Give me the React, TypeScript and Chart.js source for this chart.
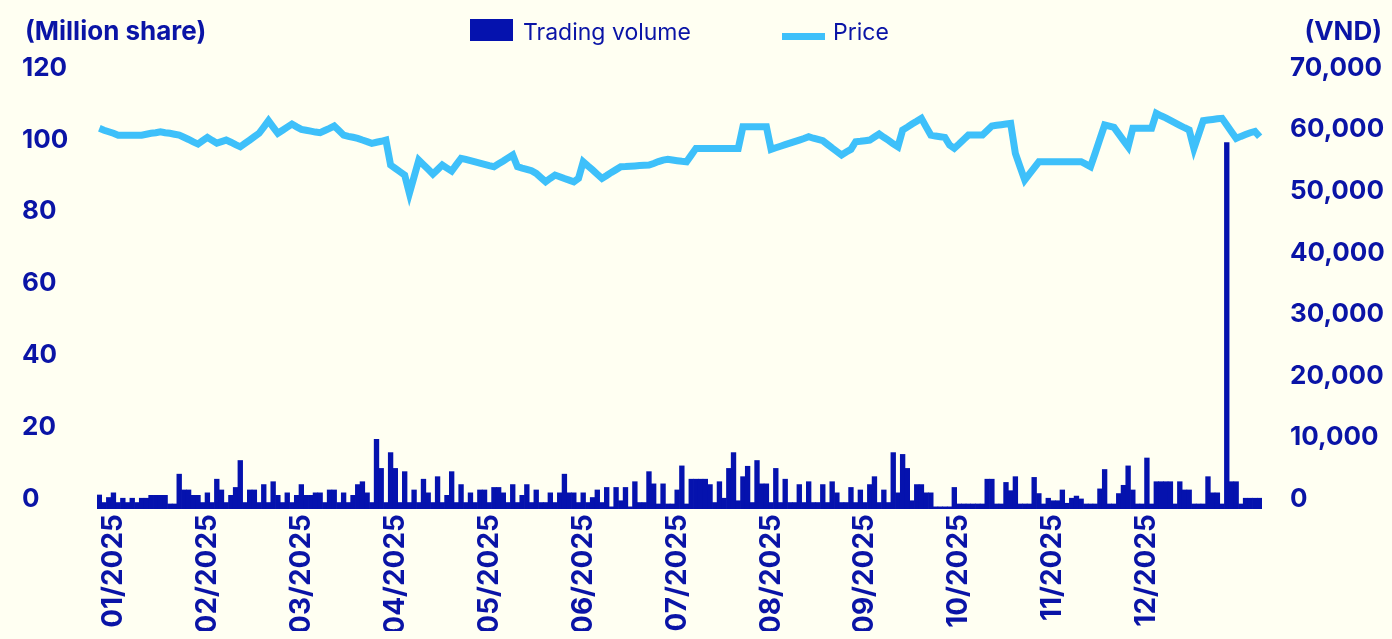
import React, { useEffect, useRef } from 'react';
import { Chart, registerables } from 'chart.js';

Chart.register(...registerables);

const BG = '#fffff2';
const TEXT = '#0a14a6';
const BAR = '#0512ae';
const LINE = '#3ec0fa';

// Trading volume (million shares), one value per trading day
const volume = [
  3.9, 1.8, 3.2, 4.5, 1.8, 3.0, 1.8, 3.0, 1.8, 3.0,
  3.0, 3.8, 3.8, 3.8, 3.8, 1.4, 1.4, 9.7, 5.3, 5.3,
  3.8, 3.8, 1.8, 4.5, 1.8, 8.3, 5.3, 1.8, 3.8, 6.0,
  13.5, 1.8, 5.3, 5.3, 1.8, 6.8, 1.8, 7.6, 3.8, 1.8,
  4.5, 1.8, 3.8, 6.8, 3.8, 3.8, 4.5, 4.5, 1.8, 5.3,
  5.3, 1.8, 4.5, 1.8, 3.8, 6.8, 7.6, 4.5, 1.8, 19.4,
  11.3, 1.8, 15.7, 11.3, 1.8, 10.4, 1.8, 5.3, 1.8, 8.3,
  4.5, 1.8, 9.0, 1.8, 3.8, 10.4, 1.8, 6.8, 1.8, 4.5,
  1.8, 5.3, 5.3, 1.8, 6.0, 6.0, 4.5, 1.8, 6.8, 1.8,
  3.8, 6.8, 1.8, 5.3, 1.8, 1.8, 4.5, 1.8, 4.5, 9.7,
  4.5, 4.5, 1.8, 4.5, 1.8, 3.2, 5.3, 1.8, 6.0, 0.6,
  6.0, 2.3, 6.0, 0.6, 7.6, 1.8, 1.8, 10.4, 7.0, 1.4,
  7.0, 1.4, 1.4, 5.3, 12.0, 1.4, 8.3, 8.3, 8.3, 8.3,
  6.8, 1.8, 7.6, 3.0, 11.3, 15.7, 2.3, 9.0, 11.9, 1.8,
  13.5, 7.0, 7.0, 1.8, 11.3, 1.8, 8.3, 1.8, 1.8, 6.8,
  1.8, 7.6, 1.8, 1.8, 6.8, 1.8, 7.6, 4.5, 1.8, 1.8,
  6.0, 1.8, 5.3, 1.8, 6.8, 9.0, 1.8, 5.3, 1.8, 15.7,
  4.5, 15.2, 11.3, 2.3, 6.8, 6.8, 4.5, 4.5, 0.6, 0.6,
  0.6, 0.6, 6.0, 1.4, 1.4, 1.4, 1.4, 1.4, 1.4, 8.3,
  8.3, 1.4, 1.4, 7.4, 5.1, 9.0, 1.4, 1.4, 1.4, 8.8,
  4.3, 1.4, 3.0, 2.3, 2.3, 5.3, 1.6, 3.0, 3.6, 2.8,
  1.4, 1.4, 1.4, 5.6, 11.0, 1.4, 1.4, 4.3, 6.6, 12.0,
  5.3, 1.4, 1.4, 14.2, 1.4, 7.6, 7.6, 7.6, 7.6, 1.4,
  7.6, 5.3, 5.3, 1.4, 1.4, 1.4, 9.0, 4.5, 4.5, 1.4,
  102, 7.6, 7.6, 1.4, 3.0, 3.0, 3.0, 3.0,
];

// Closing price (VND), one value per trading day
const price = [
  61820, 61520, 61270, 61020, 60720, 60720, 60720, 60720, 60720, 60720,
  60870, 61020, 61120, 61270, 61120, 61020, 60870, 60720, 60370, 60020,
  59620, 59270, 59820, 60360, 59870, 59420, 59670, 59920, 59570, 59170,
  58820, 59370, 59920, 60470, 61020, 62020, 63060, 62020, 61020, 61520,
  62020, 62520, 62070, 61660, 61520, 61370, 61220, 61110, 61470, 61820,
  62200, 61470, 60720, 60520, 60370, 60200, 59920, 59670, 59390, 59570,
  59720, 59920, 55860, 55320, 54770, 54240, 51260, 53970, 56670, 55920,
  55170, 54400, 55120, 55860, 55370, 54890, 55920, 56950, 56770, 56570,
  56370, 56170, 55970, 55770, 55590, 56070, 56520, 57020, 57490, 55590,
  55370, 55170, 54940, 54510, 53820, 53150, 53720, 54240, 53970, 53670,
  53420, 53150, 53700, 56400, 55720, 55070, 54370, 53700, 54170, 54670,
  55120, 55590, 55620, 55670, 55720, 55770, 55820, 55860, 56120, 56420,
  56670, 56780, 56670, 56570, 56470, 56400, 57470, 58570, 58570, 58570,
  58570, 58570, 58570, 58570, 58570, 58570, 58570, 62080, 62080, 62080,
  62080, 62080, 62080, 58410, 58670, 58920, 59170, 59420, 59670, 59920,
  60170, 60460, 60220, 60020, 59810, 59220, 58620, 58070, 57490, 57970,
  58410, 59650, 59720, 59820, 59920, 60420, 60900, 60370, 59870, 59320,
  58830, 61550, 62020, 62520, 62970, 63450, 62070, 60730, 60570, 60470,
  60360, 59110, 58570, 59270, 60020, 60730, 60730, 60730, 60730, 61470,
  62200, 62320, 62420, 62520, 62630, 57760, 55570, 53420, 54420, 55420,
  56400, 56400, 56400, 56400, 56400, 56400, 56400, 56400, 56400, 56400,
  56020, 55590, 57820, 60120, 62360, 62170, 61980, 60920, 59870, 58830,
  61820, 61820, 61820, 61820, 61820, 64260, 63870, 63520, 63120, 62720,
  62320, 61920, 61550, 58570, 60820, 63060, 63170, 63270, 63370, 63450,
  62370, 61270, 60200, 60520, 60820, 61110, 61320, 60460,
];

const monthLabels = [
  '01/2025', '02/2025', '03/2025', '04/2025', '05/2025', '06/2025',
  '07/2025', '08/2025', '09/2025', '10/2025', '11/2025', '12/2025',
];
// trading-day index at which each month label sits
const monthLabelIndex = [3, 23, 43, 63, 83, 103, 123, 143, 163, 183, 203, 223];

const leftMax = 120;
const leftStep = 20;
const rightMax = 70000;
const rightStep = 10000;

const leftTitle = '(Million share)';
const rightTitle = '(VND)';

const headerPlugin = {
  id: 'header',
  afterDraw(chart: any) {
    const ctx = chart.ctx as CanvasRenderingContext2D;
    const ds = chart.data.datasets;
    const volDs = ds.find((d: any) => d.type === 'bar');
    const priceDs = ds.find((d: any) => d.type === 'line');
    ctx.save();
    ctx.textBaseline = 'middle';
    ctx.fillStyle = TEXT;
    ctx.font = 'bold 26px Inter';
    ctx.textAlign = 'left';
    ctx.fillText(leftTitle, 17, 24);
    ctx.textAlign = 'right';
    ctx.fillText(rightTitle, chart.width - 2, 24);

    // legend
    ctx.fillStyle = volDs.backgroundColor;
    ctx.fillRect(462, 11, 43, 22);
    ctx.font = '23px Inter';
    ctx.fillStyle = TEXT;
    ctx.textAlign = 'left';
    ctx.fillText(volDs.label, 515, 25);

    ctx.strokeStyle = priceDs.borderColor;
    ctx.lineWidth = 7;
    ctx.beginPath();
    ctx.moveTo(774, 28.5);
    ctx.lineTo(817, 28.5);
    ctx.stroke();
    ctx.fillText(priceDs.label, 825, 25);
    ctx.restore();
  },
};

export default function App() {
  const ref = useRef<HTMLCanvasElement | null>(null);

  useEffect(() => {
    document.body.style.background = BG;
    document.documentElement.style.background = BG;
    const canvas = ref.current;
    if (!canvas) return;
    const labels = volume.map((_, i) => String(i));
    const chart = new Chart(canvas, {
      data: {
        labels,
        datasets: [
          {
            type: 'line',
            label: 'Price',
            data: price,
            yAxisID: 'y1',
            borderColor: LINE,
            backgroundColor: LINE,
            borderWidth: 7,
            pointRadius: 0,
            pointHoverRadius: 0,
            tension: 0,
            borderJoinStyle: 'miter',
            borderCapStyle: 'butt',
            fill: false,
          } as any,
          {
            type: 'bar',
            label: 'Trading volume',
            data: volume,
            yAxisID: 'y',
            backgroundColor: BAR,
            borderWidth: 0,
            categoryPercentage: 1,
            barPercentage: 1,
          } as any,
        ],
      },
      options: {
        animation: false,
        responsive: true,
        maintainAspectRatio: false,
        layout: { padding: { top: 70, left: 14, right: 0, bottom: 0 } },
        plugins: {
          legend: { display: false },
          tooltip: { enabled: false },
        },
        scales: {
          x: {
            type: 'category',
            offset: true,
            grid: { display: false, drawTicks: false },
            border: { display: false },
            ticks: {
              autoSkip: false,
              minRotation: 90,
              maxRotation: 90,
              padding: 5,
              color: TEXT,
              font: { family: 'Inter', size: 28, weight: 'bold' },
              callback: (_v: any, index: number) => {
                const k = monthLabelIndex.indexOf(index);
                return k >= 0 ? monthLabels[k] : '';
              },
            },
            afterFit: (s: any) => {
              s.height = 122;
            },
          },
          y: {
            position: 'left',
            min: 0,
            max: leftMax,
            grid: { display: false, drawTicks: false },
            border: { display: false },
            ticks: {
              stepSize: leftStep,
              crossAlign: 'far',
              labelOffset: -10,
              padding: 0,
              color: TEXT,
              font: { family: 'Inter', size: 26, weight: 'bold' },
            },
            afterFit: (s: any) => {
              s.width = 75;
            },
          },
          y1: {
            position: 'right',
            min: 0,
            max: rightMax,
            grid: { display: false, drawTicks: false },
            border: { display: false },
            ticks: {
              stepSize: rightStep,
              labelOffset: -10,
              padding: 28,
              color: TEXT,
              font: { family: 'Inter', size: 26, weight: 'bold' },
              callback: (v: any) => Number(v).toLocaleString('en-US'),
            },
            afterFit: (s: any) => {
              s.width = 122;
            },
          },
        },
      } as any,
      plugins: [headerPlugin],
    });
    return () => chart.destroy();
  }, []);

  return (
    <div style={{ width: 1376, height: 623, background: BG, position: 'relative' }}>
      <canvas ref={ref} />
    </div>
  );
}
